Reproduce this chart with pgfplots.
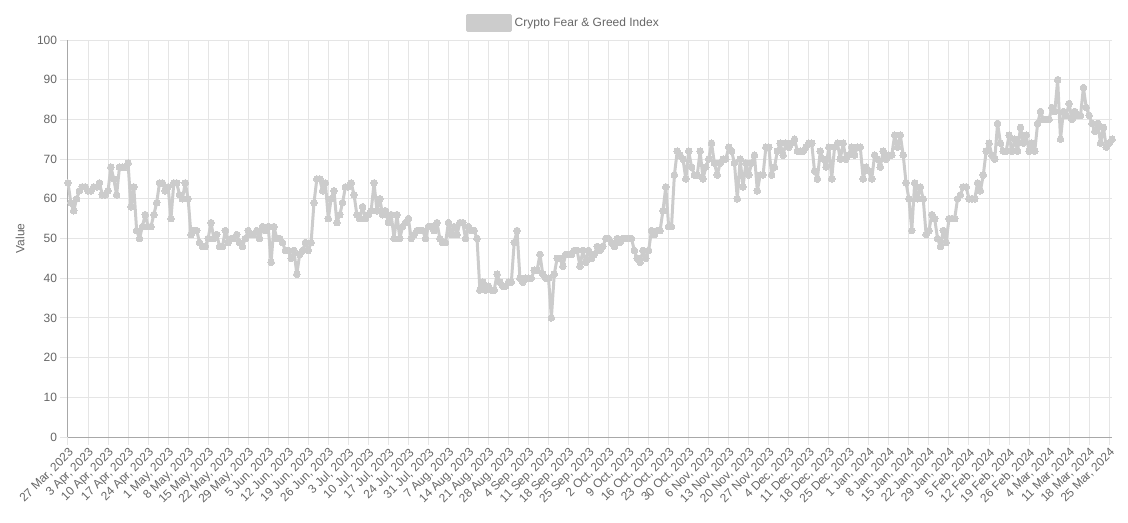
\documentclass[border=0pt]{standalone}
\usepackage{fontspec}
\setmainfont{Liberation Sans}
\usepackage{pgfplots}
\pgfplotsset{compat=1.18}
\definecolor{fgline}{HTML}{CCCCCC}
\definecolor{gridc}{HTML}{E5E5E5}
\definecolor{axisc}{HTML}{A8A8A8}
\definecolor{txt}{HTML}{666666}

\begin{document}
\begin{tikzpicture}
\useasboundingbox (0,0) rectangle (846pt,391.5pt);
\begin{axis}[
    at={(51pt,63.75pt)}, anchor=south west,
    scale only axis,
    width=783pt, height=297.75pt,
    xmin=0, xmax=365, ymin=0, ymax=100,
    axis lines*=left,
    axis line style={draw=axisc, line width=0.75pt},
    xmajorgrids, ymajorgrids,
    grid style={draw=gridc, line width=0.75pt},
    tick align=outside,
    major tick length=6pt,
    tick style={draw=gridc, line width=0.75pt},
    ytick={0,10,...,100},
    xtick={0,7,...,364},
    xticklabels={{27 Mar, 2023},{3 Apr, 2023},{10 Apr, 2023},{17 Apr, 2023},{24 Apr, 2023},
      {1 May, 2023},{8 May, 2023},{15 May, 2023},{22 May, 2023},{29 May, 2023},
      {5 Jun, 2023},{12 Jun, 2023},{19 Jun, 2023},{26 Jun, 2023},
      {3 Jul, 2023},{10 Jul, 2023},{17 Jul, 2023},{24 Jul, 2023},{31 Jul, 2023},
      {7 Aug, 2023},{14 Aug, 2023},{21 Aug, 2023},{28 Aug, 2023},
      {4 Sep, 2023},{11 Sep, 2023},{18 Sep, 2023},{25 Sep, 2023},
      {2 Oct, 2023},{9 Oct, 2023},{16 Oct, 2023},{23 Oct, 2023},{30 Oct, 2023},
      {6 Nov, 2023},{13 Nov, 2023},{20 Nov, 2023},{27 Nov, 2023},
      {4 Dec, 2023},{11 Dec, 2023},{18 Dec, 2023},{25 Dec, 2023},
      {1 Jan, 2024},{8 Jan, 2024},{15 Jan, 2024},{22 Jan, 2024},{29 Jan, 2024},
      {5 Feb, 2024},{12 Feb, 2024},{19 Feb, 2024},{26 Feb, 2024},
      {4 Mar, 2024},{11 Mar, 2024},{18 Mar, 2024},{25 Mar, 2024}},
    /pgf/number format/assume math mode=true,
    tick label style={font=\fontsize{9}{10}\selectfont, text=txt},
    xticklabel style={rotate=45, anchor=north east, inner sep=1pt},
    yticklabel style={inner sep=2pt},
    ylabel={Value},
    ylabel style={at={(axis description cs:-0.046,0.5)}, anchor=center,
      font=\fontsize{9}{10}\selectfont, text=txt},
    legend style={draw=none, fill=none, at={(0.475,1.043)}, anchor=center,
      font=\fontsize{9}{10}\selectfont, text=txt},
    legend cell align=left,
    clip=false,
  ]
  \addplot[color=fgline, line width=2.25pt, line join=round, mark=*,
    mark size=2.5pt, mark options={fill=fgline, draw=fgline, line width=0pt},
    legend image code/.code={\fill[fgline] (0pt,-5.5pt) rectangle (32pt,5.5pt);}]
  coordinates {
  (0,64)(1,59)(2,57)(3,60)(4,62)(5,63)(6,63)
  (7,62)(8,62)(9,63)(10,63)(11,64)(12,61)(13,61)
  (14,62)(15,68)(16,65)(17,61)(18,68)(19,68)(20,68)
  (21,69)(22,58)(23,63)(24,52)(25,50)(26,53)(27,56)
  (28,53)(29,53)(30,56)(31,59)(32,64)(33,64)(34,62)
  (35,63)(36,55)(37,64)(38,64)(39,61)(40,60)(41,64)
  (42,60)(43,51)(44,52)(45,52)(46,49)(47,48)(48,48)
  (49,50)(50,54)(51,50)(52,51)(53,48)(54,48)(55,52)
  (56,49)(57,50)(58,50)(59,51)(60,49)(61,48)(62,50)
  (63,52)(64,51)(65,51)(66,52)(67,50)(68,53)(69,52)
  (70,53)(71,44)(72,53)(73,50)(74,50)(75,49)(76,47)
  (77,47)(78,45)(79,47)(80,41)(81,46)(82,47)(83,49)
  (84,47)(85,49)(86,59)(87,65)(88,65)(89,62)(90,64)
  (91,55)(92,60)(93,62)(94,54)(95,56)(96,59)(97,63)
  (98,63)(99,64)(100,61)(101,56)(102,55)(103,58)(104,55)
  (105,56)(106,57)(107,64)(108,57)(109,60)(110,56)(111,57)
  (112,54)(113,56)(114,50)(115,56)(116,50)(117,53)(118,54)
  (119,55)(120,50)(121,51)(122,52)(123,52)(124,52)(125,50)
  (126,53)(127,53)(128,52)(129,54)(130,50)(131,49)(132,49)
  (133,54)(134,51)(135,53)(136,51)(137,54)(138,54)(139,50)
  (140,53)(141,52)(142,52)(143,50)(144,37)(145,39)(146,37)
  (147,38)(148,37)(149,37)(150,41)(151,39)(152,38)(153,38)
  (154,39)(155,39)(156,49)(157,52)(158,40)(159,39)(160,40)
  (161,40)(162,40)(163,42)(164,42)(165,46)(166,41)(167,40)
  (168,40)(169,30)(170,41)(171,45)(172,45)(173,43)(174,46)
  (175,46)(176,46)(177,47)(178,47)(179,43)(180,47)(181,44)
  (182,47)(183,45)(184,46)(185,48)(186,47)(187,48)(188,50)
  (189,50)(190,49)(191,48)(192,50)(193,49)(194,50)(195,50)
  (196,50)(197,50)(198,47)(199,45)(200,44)(201,47)(202,45)
  (203,47)(204,52)(205,51)(206,52)(207,52)(208,57)(209,63)
  (210,53)(211,53)(212,66)(213,72)(214,71)(215,70)(216,65)
  (217,72)(218,68)(219,66)(220,66)(221,72)(222,65)(223,68)
  (224,70)(225,74)(226,69)(227,66)(228,69)(229,70)(230,70)
  (231,73)(232,72)(233,69)(234,60)(235,70)(236,63)(237,69)
  (238,66)(239,69)(240,71)(241,62)(242,66)(243,66)(244,73)
  (245,73)(246,66)(247,68)(248,72)(249,74)(250,71)(251,74)
  (252,73)(253,74)(254,75)(255,72)(256,72)(257,72)(258,73)
  (259,74)(260,74)(261,67)(262,65)(263,72)(264,70)(265,68)
  (266,73)(267,65)(268,73)(269,74)(270,70)(271,74)(272,70)
  (273,71)(274,73)(275,71)(276,73)(277,73)(278,65)(279,68)
  (280,67)(281,65)(282,71)(283,70)(284,68)(285,72)(286,70)
  (287,71)(288,71)(289,76)(290,73)(291,76)(292,71)(293,64)
  (294,60)(295,52)(296,64)(297,60)(298,63)(299,60)(300,51)
  (301,52)(302,56)(303,55)(304,50)(305,48)(306,52)(307,49)
  (308,55)(309,55)(310,55)(311,60)(312,61)(313,63)(314,63)
  (315,60)(316,60)(317,60)(318,64)(319,62)(320,66)(321,72)
  (322,74)(323,71)(324,70)(325,79)(326,74)(327,72)(328,72)
  (329,76)(330,72)(331,75)(332,72)(333,78)(334,74)(335,76)
  (336,72)(337,74)(338,72)(339,79)(340,82)(341,80)(342,80)
  (343,80)(344,83)(345,82)(346,90)(347,75)(348,82)(349,81)
  (350,84)(351,80)(352,82)(353,81)(354,81)(355,88)(356,83)
  (357,81)(358,79)(359,77)(360,79)(361,74)(362,78)(363,73)
  (364,74)(365,75)
  };
  \addlegendentry{Crypto Fear \& Greed Index}
\end{axis}
\end{tikzpicture}
\end{document}
